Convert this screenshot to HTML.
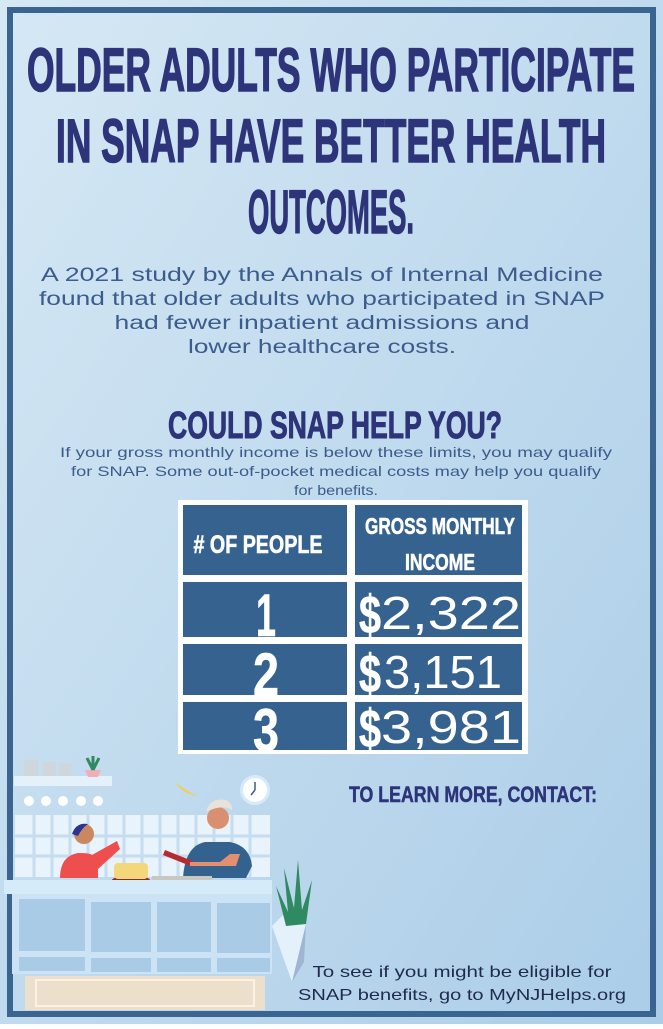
<!DOCTYPE html>
<html><head><meta charset="utf-8"><style>
html,body{margin:0;padding:0;}
body{width:663px;height:1024px;overflow:hidden;}
</style></head><body>
<svg width="663" height="1024" viewBox="0 0 663 1024" xmlns="http://www.w3.org/2000/svg">
<defs>
<linearGradient id="bg" x1="0" y1="0" x2="1" y2="1">
<stop offset="0" stop-color="#d6e8f4"/><stop offset="1" stop-color="#abcde8"/>
</linearGradient>
</defs>
<rect width="663" height="1024" fill="url(#bg)"/>
<rect x="10" y="10" width="643" height="1004" fill="none" stroke="#3a6591" stroke-width="6"/>

<g font-family="Liberation Sans, sans-serif" font-weight="bold" fill="#2e3479" stroke="#2e3479" stroke-width="1.5" text-anchor="middle" font-size="61">
<text x="331" y="91" textLength="608" lengthAdjust="spacingAndGlyphs">OLDER ADULTS WHO PARTICIPATE</text>
<text x="331" y="162" textLength="550" lengthAdjust="spacingAndGlyphs">IN SNAP HAVE BETTER HEALTH</text>
<text x="331" y="233" textLength="166" lengthAdjust="spacingAndGlyphs">OUTCOMES.</text>
</g>

<g font-family="Liberation Sans, sans-serif" fill="#3b5c8c" text-anchor="middle" font-size="19">
<text x="322" y="281" textLength="562" lengthAdjust="spacingAndGlyphs">A 2021 study by the Annals of Internal Medicine</text>
<text x="322" y="305" textLength="566" lengthAdjust="spacingAndGlyphs">found that older adults who participated in SNAP</text>
<text x="322" y="329" textLength="415" lengthAdjust="spacingAndGlyphs">had fewer inpatient admissions and</text>
<text x="322" y="353" textLength="268" lengthAdjust="spacingAndGlyphs">lower healthcare costs.</text>
</g>

<text x="335" y="438" font-family="Liberation Sans, sans-serif" font-weight="bold" font-size="38" fill="#2e3479" stroke="#2e3479" stroke-width="1" text-anchor="middle" textLength="334" lengthAdjust="spacingAndGlyphs">COULD SNAP HELP YOU?</text>

<g font-family="Liberation Sans, sans-serif" fill="#3b5c8c" text-anchor="middle" font-size="14">
<text x="336" y="457" textLength="552" lengthAdjust="spacingAndGlyphs">If your gross monthly income is below these limits, you may qualify</text>
<text x="336" y="476" textLength="530" lengthAdjust="spacingAndGlyphs">for SNAP.  Some out-of-pocket medical costs may help you qualify</text>
<text x="336" y="495" textLength="84" lengthAdjust="spacingAndGlyphs">for benefits.</text>
</g>

<rect x="178" y="500" width="350" height="254" fill="#fff"/>
<g fill="#36628f">
<rect x="183" y="505" width="164" height="70"/><rect x="355" y="505" width="167" height="70"/>
<rect x="183" y="582" width="164" height="55"/><rect x="355" y="582" width="167" height="55"/>
<rect x="183" y="644" width="164" height="51"/><rect x="355" y="644" width="167" height="51"/>
<rect x="183" y="702" width="164" height="48"/><rect x="355" y="702" width="167" height="48"/>
</g>
<g font-family="Liberation Sans, sans-serif" fill="#fff" stroke="#fff" stroke-width="0.6" text-anchor="middle" font-weight="bold">
<text x="258" y="553" font-size="25" textLength="129" lengthAdjust="spacingAndGlyphs"># OF PEOPLE</text>
<text x="440" y="534" font-size="23" textLength="150" lengthAdjust="spacingAndGlyphs">GROSS MONTHLY</text>
<text x="440" y="570" font-size="23" textLength="70" lengthAdjust="spacingAndGlyphs">INCOME</text>
<text x="266" y="636" font-size="60" textLength="20" lengthAdjust="spacingAndGlyphs">1</text>
<text x="266" y="695" font-size="60" textLength="26" lengthAdjust="spacingAndGlyphs">2</text>
<text x="266" y="751" font-size="60" textLength="26" lengthAdjust="spacingAndGlyphs">3</text>
<text x="370" y="633" font-size="54" textLength="22" lengthAdjust="spacingAndGlyphs">$</text>
<text x="370" y="692" font-size="54" textLength="22" lengthAdjust="spacingAndGlyphs">$</text>
<text x="370" y="747" font-size="54" textLength="22" lengthAdjust="spacingAndGlyphs">$</text>
</g>
<g font-family="Liberation Sans, sans-serif" fill="#fff" font-size="46">
<text x="381" y="629" textLength="140" lengthAdjust="spacingAndGlyphs">2,322</text>
<text x="384" y="688" textLength="118" lengthAdjust="spacingAndGlyphs">3,151</text>
<text x="381" y="743" textLength="140" lengthAdjust="spacingAndGlyphs">3,981</text>
</g>

<text x="473" y="802" font-family="Liberation Sans, sans-serif" font-weight="bold" font-size="22" fill="#2e3479" stroke="#2e3479" stroke-width="0.5" text-anchor="middle" textLength="248" lengthAdjust="spacingAndGlyphs">TO LEARN MORE, CONTACT:</text>

<g font-family="Liberation Sans, sans-serif" fill="#1f2a4e" text-anchor="middle" font-size="16">
<text x="462" y="977" textLength="299" lengthAdjust="spacingAndGlyphs">To see if you might be eligible for</text>
<text x="462" y="1000" textLength="328" lengthAdjust="spacingAndGlyphs">SNAP benefits, go to MyNJHelps.org</text>
</g>

<!-- illustration -->
<g>
<rect x="14" y="776" width="98" height="10" fill="#e4f1fb"/>
<rect x="24" y="760" width="14" height="16" fill="#cfd6dc"/><rect x="43" y="762" width="13" height="14" fill="#cfd6dc"/><rect x="59" y="763" width="12" height="13" fill="#cfd6dc"/>
<path d="M85 770 h16 l-3 7 h-10z" fill="#f2aeb8"/><path d="M93 770 l-6 -12 M93 770 l0 -14 M93 770 l6 -12" stroke="#2f8a62" stroke-width="3"/>
<g fill="#fff"><circle cx="29" cy="801" r="5"/><circle cx="46" cy="801" r="5"/><circle cx="63" cy="801" r="5"/><circle cx="81" cy="801" r="5"/><circle cx="98" cy="801" r="5"/></g>
<rect x="15" y="815" width="255" height="62" fill="#e8f3fc"/>
<g stroke="#c5ddef" stroke-width="3">
<path d="M15 836 H270 M15 856 H270 M34 815 V877 M52 815 V877 M70 815 V877 M88 815 V877 M106 815 V877 M124 815 V877 M142 815 V877 M160 815 V877 M178 815 V877 M196 815 V877 M214 815 V877 M232 815 V877 M250 815 V877"/>
</g>
<circle cx="255" cy="790" r="15" fill="#d6ebfa"/><circle cx="255" cy="790" r="12" fill="#fff"/>
<path d="M255 790 v-8 M255 790 l-4 5" stroke="#3b5c8c" stroke-width="1.5"/>
<path d="M175 782 q10 8 22 14 q-14 -2 -22 -14z" fill="#f0d24a"/>
<path d="M60 878 q0 -22 18 -25 q12 0 14 2 l25 -14 l3 8 l-22 20 v9z" fill="#ef4e4e"/>
<circle cx="84" cy="834" r="10" fill="#c98860"/><path d="M72 834 q4 -12 16 -10 q-6 4 -10 12z" fill="#2c3590"/>
<path d="M183 878 q2 -32 22 -36 l25 0 q20 4 22 24 l-6 12z" fill="#34628f"/>
<circle cx="218" cy="818" r="11" fill="#d99070"/><path d="M206 812 q4 -15 20 -12 q7 4 6 10 q-10 -6 -26 2z" fill="#e8e2d8"/>
<path d="M165 850 l30 12 l-2 5 l-30 -12z" fill="#b52b30"/>
<path d="M190 862 h30 l10 -8 h10 l-4 12 h-46z" fill="#e49070"/>
<ellipse cx="131" cy="880" rx="19" ry="4" fill="#8b2b2b"/><rect x="114" y="863" width="34" height="16" rx="4" fill="#f3d77a"/>
<rect x="152" y="876" width="60" height="7" fill="#c9c7c2"/>
<rect x="4" y="880" width="268" height="14" fill="#d6ebfa"/>
<rect x="12" y="894" width="260" height="80" fill="#cbe3f5"/>
<g fill="#a9cbe6"><rect x="19" y="899" width="66" height="52"/><rect x="91" y="902" width="60" height="50"/><rect x="157" y="902" width="54" height="50"/><rect x="217" y="903" width="53" height="50"/>
<rect x="19" y="957" width="66" height="14"/><rect x="91" y="958" width="60" height="14"/><rect x="157" y="958" width="54" height="14"/><rect x="217" y="958" width="53" height="14"/></g>
<rect x="25" y="976" width="240" height="34" fill="#ecdfcb"/>
<rect x="36" y="980" width="218" height="26" fill="none" stroke="#fbf2e3" stroke-width="2"/>
<path d="M272 926 l12 -12 l22 10 l-14 58 z" fill="#e4f1fb"/><path d="M306 924 l-14 58 l12 -20 z" fill="#9fb5d6"/>
<path d="M286 926 l-10 -40 l12 26 l-4 -44 l10 40 l4 -48 l4 50 l10 -30 l-6 44z" fill="#2f8a62"/>
</g>
</svg>
</body></html>
